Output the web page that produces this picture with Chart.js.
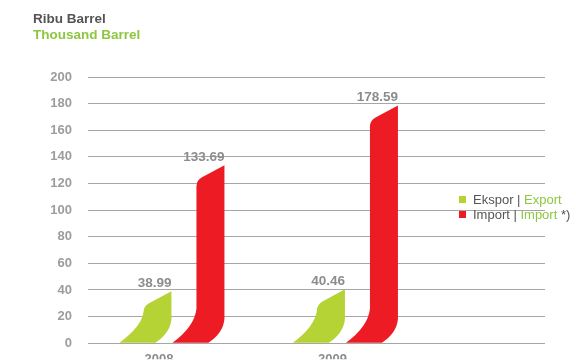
<!DOCTYPE html>
<html>
<head>
<meta charset="utf-8">
<script src="https://cdn.jsdelivr.net/npm/chart.js@4"></script>
<style>
    html, body { margin: 0; padding: 0; background: #fff; overflow: hidden; }
    #wrap { position: relative; width: 576px; height: 367px; }
    .title {
        position: absolute; left: 33px; top: 11px;
        font: bold 13.5px "Liberation Sans", Arial, sans-serif;
        line-height: 15.5px; white-space: nowrap;
    }
    .legend {
        position: absolute; left: 459px; top: 192px;
        font: 13px "Liberation Sans", Arial, sans-serif;
        line-height: 15px; color: #555; white-space: nowrap;
    }
    .legend div { position: relative; padding-left: 14px; }
    .legend i { position: absolute; left: 0; top: 4px; width: 7px; height: 7px; }
    .grey { color: #555; }
    .green { color: #8dc63f; }
</style>
</head>
<body>
<div id="wrap">
    <canvas id="barrelChart"></canvas>
    <div class="title">
        <div class="grey">Ribu Barrel</div>
        <div class="green">Thousand Barrel</div>
    </div>
    <div class="legend">
        <div><i style="background:#b5d335"></i>Ekspor | <span class="green">Export</span></div>
        <div><i style="background:#ed1c24"></i>Import | <span class="green">Import</span> *)</div>
    </div>
</div>
<script>
const years = ["2008", "2009"];
const ekspor = [38.99, 40.46];
const impor = [133.69, 178.59];
const yTicks = [0, 20, 40, 60, 80, 100, 120, 140, 160, 180, 200];

const labelFont = { family: "'Liberation Sans', Arial, sans-serif", size: 13, weight: "bold" };

// bars are drawn as a "sail": slanted top, bottom bent to the left
const sailBars = {
    id: "sailBars",
    beforeDatasetDraw(chart, args) {
        const ctx = chart.ctx;
        const meta = args.meta;
        ctx.save();
        ctx.fillStyle = chart.data.datasets[args.index].backgroundColor;
        meta.data.forEach(el => {
            const { x, y, base, width } = el.getProps(["x", "y", "base", "width"], true);
            const r = x + width / 2;
            const l = x - width / 2;
            const yl = y + 15;
            const rs = Math.max(y, base - 24);
            const ls = Math.max(yl + 6, base - 34);

            ctx.beginPath();
            ctx.moveTo(r, y);
            ctx.lineTo(r, rs);
            ctx.quadraticCurveTo(r - 1, base - 10, r - 16, base);
            ctx.lineTo(l - 24, base);
            ctx.quadraticCurveTo(l - 2, base - 16, l, ls);
            ctx.lineTo(l, yl + 6);
            ctx.quadraticCurveTo(l, yl, l + 6, yl - 3.2);
            ctx.closePath();
            ctx.fill();
        });
        ctx.restore();
        return false;
    },
    afterDatasetsDraw(chart) {
        const ctx = chart.ctx;
        ctx.save();
        ctx.font = "bold 13.5px 'Liberation Sans', Arial, sans-serif";
        ctx.fillStyle = "#8c8c8c";
        ctx.textAlign = "right";
        ctx.textBaseline = "alphabetic";
        chart.data.datasets.forEach((ds, i) => {
            chart.getDatasetMeta(i).data.forEach((el, j) => {
                const { x, y, width } = el.getProps(["x", "y", "width"], true);
                ctx.fillText(ds.data[j].y.toFixed(2), x + width / 2, y - 4);
            });
        });
        ctx.restore();
    }
};

const ctx = document
    .getElementById("barrelChart")
    .getContext("2d");

new Chart(ctx, {
    type: "bar",
    data: {
        datasets: [
            {
                label: "Ekspor | Export",
                data: years.map((yr, i) => ({ x: Number(yr), y: ekspor[i] })),
                backgroundColor: "#b5d335",
                categoryPercentage: 0.611,
                barPercentage: 0.528
            },
            {
                label: "Import | Import *)",
                data: years.map((yr, i) => ({ x: Number(yr), y: impor[i] })),
                backgroundColor: "#ed1c24",
                categoryPercentage: 0.611,
                barPercentage: 0.528
            }
        ]
    },
    plugins: [sailBars],
    options: {
        responsive: true,
        maintainAspectRatio: false,
        animation: false,
        layout: {
            padding: { top: 77, right: 31, left: 0, bottom: 0 }
        },
        plugins: {
            legend: { display: false },
            tooltip: { enabled: false }
        },
        scales: {
            x: {
                type: "linear",
                min: 2007.447,
                max: 2010.081,
                offset: false,
                grid: { display: false, offset: false },
                border: { display: false },
                afterBuildTicks: s => {
                    s.ticks = years.map(yr => ({ value: Number(yr) }));
                },
                afterFit: s => { s.height = 16; },
                ticks: {
                    callback: v => String(v),
                    labelOffset: -25,
                    padding: 0,
                    autoSkip: false,
                    maxRotation: 0,
                    color: "#8c8c8c",
                    font: labelFont
                }
            },
            y: {
                min: 0,
                max: 200,
                afterBuildTicks: s => {
                    s.ticks = yTicks.map(v => ({ value: v }));
                },
                afterFit: s => { s.width = 88; },
                grid: {
                    color: "#a6a6a6",
                    lineWidth: 1,
                    drawTicks: false
                },
                border: { display: false },
                ticks: {
                    padding: 16,
                    color: "#9c9c9c",
                    font: labelFont
                }
            }
        }
    }
});
</script>
</body>
</html>
